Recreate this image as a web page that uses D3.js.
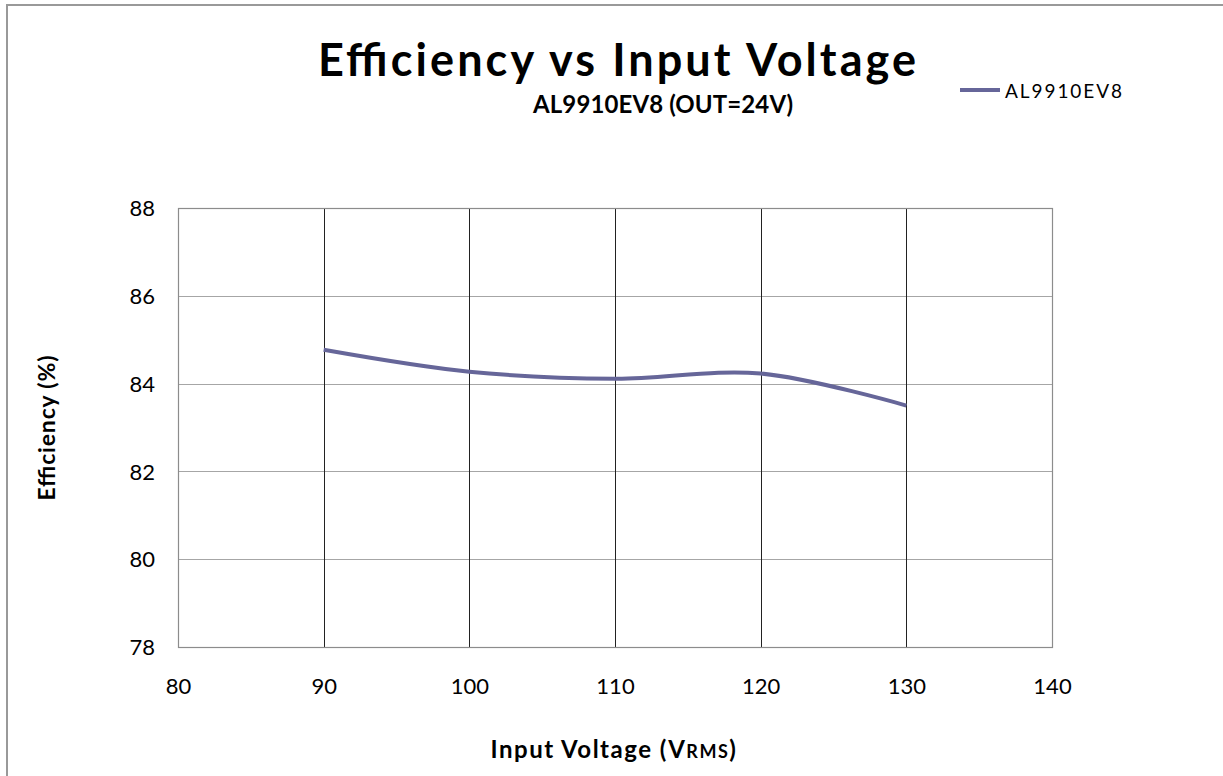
<!DOCTYPE html>
<html>
<head>
<meta charset="utf-8">
<script src="https://cdn.jsdelivr.net/npm/d3@7"></script>
<style>
  body { margin: 0; background: #fff; }
  svg { display: block; font-family: Lato, "Open Sans", sans-serif; }
</style>
</head>
<body>
<svg id="chart" width="1223" height="776"></svg>
<script>
// values
const inputVoltage = [90, 100, 110, 120, 130];
const efficiency = [84.77, 84.27, 84.11, 84.23, 83.5];
const xTicks = [80, 90, 100, 110, 120, 130, 140];
const yTicks = [78, 80, 82, 84, 86, 88];
const seriesName = 'AL9910EV8';

const width = 1223;
const height = 776;
const margin = { left: 178, right: 171, top: 208, bottom: 129 };
const innerWidth = width - margin.left - margin.right;
const innerHeight = height - margin.top - margin.bottom;

const svg = d3.select('#chart');

// outer chart frame (only top/left visible in the crop)
svg.append('path')
  .attr('d', `M7,${height + 10}V5H${width + 10}`)
  .attr('fill', 'none')
  .attr('stroke', '#999')
  .attr('stroke-width', 2);

const xScale = d3.scaleLinear().domain([80, 140]).range([0, innerWidth]);
const yScale = d3.scaleLinear().domain([78, 88]).range([innerHeight, 0]);

const g = svg.append('g')
  .attr('transform', `translate(${margin.left},${margin.top})`);

// horizontal gridlines
g.selectAll('.h-grid')
  .data(yTicks)
  .join('line')
  .attr('class', 'h-grid')
  .attr('x1', 0)
  .attr('x2', innerWidth)
  .attr('y1', (d) => Math.round(yScale(d)) + 0.5)
  .attr('y2', (d) => Math.round(yScale(d)) + 0.5)
  .attr('stroke', '#a6a6a6')
  .attr('stroke-width', 1.2);

// vertical gridlines (darker)
g.selectAll('.v-grid')
  .data(xTicks.slice(1, -1))
  .join('line')
  .attr('class', 'v-grid')
  .attr('x1', (d) => Math.round(xScale(d)) + 0.5)
  .attr('x2', (d) => Math.round(xScale(d)) + 0.5)
  .attr('y1', 0)
  .attr('y2', innerHeight)
  .attr('stroke', '#222')
  .attr('stroke-width', 1);

// plot frame
g.append('rect')
  .attr('x', 0.5)
  .attr('y', 0.5)
  .attr('width', innerWidth)
  .attr('height', innerHeight)
  .attr('fill', 'none')
  .attr('stroke', '#8c8c8c')
  .attr('stroke-width', 1.2);

// tick labels
const xAxis = d3.axisBottom(xScale).tickValues(xTicks).tickSize(0).tickPadding(0);
g.append('g')
  .attr('transform', `translate(0,${innerHeight})`)
  .call(xAxis)
  .attr('font-size', null)
  .attr('font-family', null)
  .call((s) => s.select('.domain').remove())
  .selectAll('text')
  .attr('dy', 0)
  .attr('y', 47)
  .attr('fill', '#000')
  .attr('font-size', 22);

const yAxis = d3.axisLeft(yScale).tickValues(yTicks).tickSize(0).tickPadding(0);
g.append('g')
  .call(yAxis)
  .attr('font-size', null)
  .attr('font-family', null)
  .call((s) => s.select('.domain').remove())
  .selectAll('text')
  .attr('x', -23)
  .attr('dy', '0.35em')
  .attr('fill', '#000')
  .attr('font-size', 22);

// data line
const line = d3.line()
  .x((d, i) => xScale(inputVoltage[i]))
  .y((d) => yScale(d))
  .curve(d3.curveCatmullRom.alpha(0.5));

g.append('path')
  .datum(efficiency)
  .attr('d', line)
  .attr('fill', 'none')
  .attr('stroke', '#666699')
  .attr('stroke-width', 4);

// titles
svg.append('text')
  .attr('x', 617)
  .attr('y', 76)
  .attr('text-anchor', 'middle')
  .attr('font-weight', 'bold')
  .attr('font-size', 45)
  .attr('textLength', 598)
  .attr('lengthAdjust', 'spacing')
  .text('Efficiency vs Input Voltage');

svg.append('text')
  .attr('x', 663)
  .attr('y', 113)
  .attr('text-anchor', 'middle')
  .attr('font-weight', 'bold')
  .attr('font-size', 24)
  .attr('textLength', 260)
  .attr('lengthAdjust', 'spacing')
  .text('AL9910EV8 (OUT=24V)');

// axis titles
const xTitle = svg.append('text')
  .attr('x', 614)
  .attr('y', 758)
  .attr('text-anchor', 'middle')
  .attr('font-weight', 'bold')
  .attr('font-size', 24)
  .attr('letter-spacing', 1.5);
xTitle.append('tspan').text('Input Voltage (V');
xTitle.append('tspan').attr('font-size', 18).text('RMS');
xTitle.append('tspan').text(')');

svg.append('text')
  .attr('transform', 'translate(55,428) rotate(-90)')
  .attr('text-anchor', 'middle')
  .attr('font-weight', 'bold')
  .attr('font-size', 23)
  .attr('textLength', 145)
  .attr('lengthAdjust', 'spacing')
  .text('Efficiency (%)');

// legend
const legend = svg.append('g').attr('transform', 'translate(960,90)');
legend.append('line')
  .attr('x1', 0)
  .attr('x2', 40)
  .attr('stroke', '#666699')
  .attr('stroke-width', 4);
legend.append('text')
  .attr('x', 45)
  .attr('y', 8)
  .attr('font-size', 19)
  .attr('textLength', 117)
  .attr('lengthAdjust', 'spacing')
  .text(seriesName);
</script>
</body>
</html>
